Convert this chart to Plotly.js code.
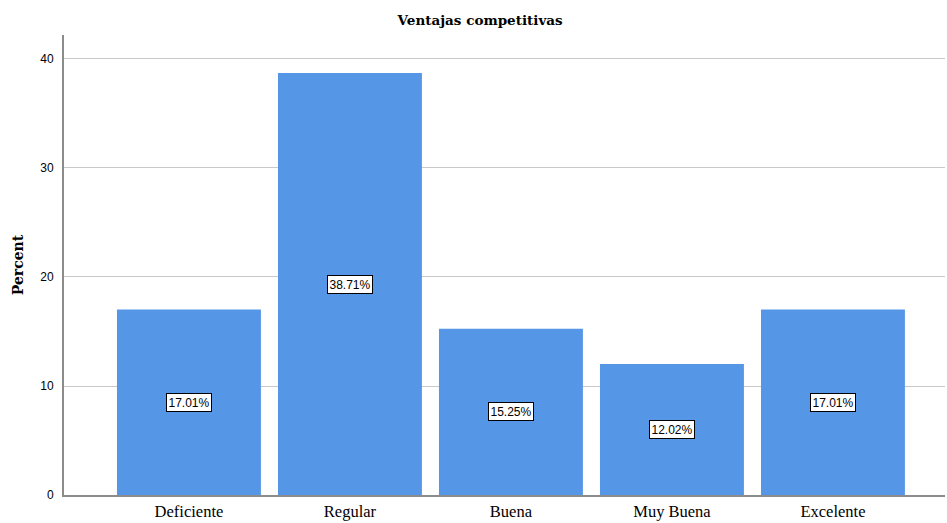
<!DOCTYPE html>
<html>
<head>
<meta charset="utf-8">
<script src="https://cdn.plot.ly/plotly-3.0.1.min.js"></script>
<style>
  html, body { margin: 0; padding: 0; background: #fff; }
  #chart { width: 947px; height: 523px; }
</style>
</head>
<body>
<div id="chart"></div>
<script>
// Ventajas competitivas: percent of responses per rating
const categories = ["Deficiente", "Regular", "Buena", "Muy Buena", "Excelente"];
const percents = [17.01, 38.71, 15.25, 12.02, 17.01];
const yTicks = [0, 10, 20, 30, 40];

const barColor = "#5596e6";
const headFont = "DejaVu Serif, Georgia, serif";

const trace = {
  type: "bar",
  x: categories,
  y: percents,
  marker: { color: barColor, line: { width: 0 } },
  hoverinfo: "skip"
};

// Boxed value labels centred vertically in each bar
const labels = categories.map((c, i) => ({
  x: c,
  y: percents[i] / 2,
  xref: "x",
  yref: "y",
  text: percents[i].toFixed(2) + "%",
  showarrow: false,
  font: { family: "Liberation Sans, Arial, sans-serif", size: 12, color: "#000" },
  bgcolor: "#fff",
  bordercolor: "#000",
  borderwidth: 1,
  borderpad: 1.5
}));

const layout = {
  width: 947,
  height: 523,
  margin: { l: 64, r: 2, t: 35, b: 28 },
  paper_bgcolor: "#fff",
  plot_bgcolor: "#fff",
  bargap: 0.106,
  showlegend: false,
  title: {
    text: "<b>Ventajas competitivas</b>",
    font: { family: headFont, size: 13.5, color: "#000" },
    x: 0.507,
    xanchor: "center",
    y: 0.961,
    yanchor: "middle"
  },
  xaxis: {
    type: "category",
    range: [-0.776, 4.696],
    showgrid: false,
    showline: true,
    linecolor: "#8c8c8c",
    linewidth: 2,
    ticks: "",
    zeroline: false,
    tickfont: { family: "Liberation Serif, Times New Roman, serif", size: 16.5, color: "#000" },
    fixedrange: true
  },
  yaxis: {
    range: [0, 42.2],
    tickvals: yTicks,
    ticktext: yTicks.map(String),
    showgrid: true,
    gridcolor: "#c8c8c8",
    gridwidth: 1,
    showline: true,
    linecolor: "#8c8c8c",
    linewidth: 2,
    zeroline: false,
    ticks: "",
    ticklabelstandoff: 6,
    tickfont: { family: "Liberation Sans, Arial, sans-serif", size: 12, color: "#000" },
    title: {
      text: "<b>Percent</b>",
      font: { family: headFont, size: 14, color: "#000" },
      standoff: 13
    },
    fixedrange: true
  },
  annotations: labels
};

Plotly.newPlot("chart", [trace], layout, { displayModeBar: false, staticPlot: true });
</script>
</body>
</html>
